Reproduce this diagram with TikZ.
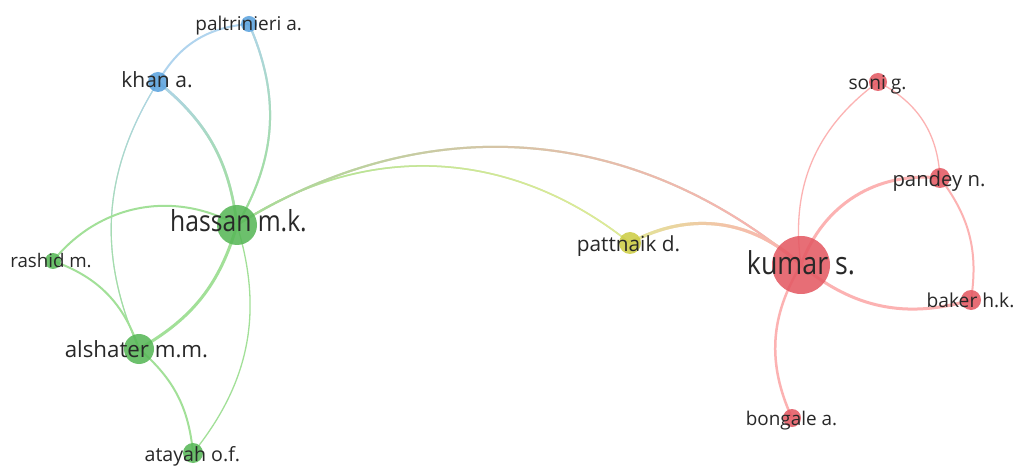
\documentclass[tikz,border=0pt]{standalone}
\usepackage{fontspec}
\usetikzlibrary{fadings}
\newfontfamily\vf{Open Sans}
\newfontfamily\vfn{Open Sans}[FakeStretch=0.85]
\definecolor{vgreen}{RGB}{88,184,88}
\definecolor{vblue}{RGB}{92,163,222}
\definecolor{vyellow}{RGB}{205,205,70}
\definecolor{vred}{RGB}{228,90,100}
\definecolor{egreen}{RGB}{162,224,152}
\definecolor{eblue}{RGB}{176,212,238}
\definecolor{eyellow}{RGB}{225,234,150}
\definecolor{ered}{RGB}{252,178,178}
\definecolor{labgray}{RGB}{40,40,40}
\tikzfading[name=fadeR, left color=transparent!0, right color=transparent!100]
\tikzfading[name=fadeL, left color=transparent!100, right color=transparent!0]
\tikzfading[name=fadeD, top color=transparent!0, bottom color=transparent!100]
\tikzfading[name=fadeU, top color=transparent!100, bottom color=transparent!0]
\pgfdeclarelayer{back}
\pgfdeclarelayer{edges}
\pgfsetlayers{back,edges,main}
\newcommand\gradedge[7]{%
  \draw[#1, draw=#4!50!#5] (#2.center) to (#3.center);
  \draw[#1, draw=#4, path fading=#6] (#2.center) to (#3.center);
  \draw[#1, draw=#5, path fading=#7] (#2.center) to (#3.center);}
\tikzset{
  vnode/.style={circle, inner sep=0pt, draw=none, fill opacity=0.88},
  lab/.style={anchor=base, inner sep=0pt, text=labgray},
  lsz/.style={font=\vf\fontsize{#1}{#1}\selectfont},
  lszn/.style={font=\vfn\fontsize{#1}{#1}\selectfont},
  thin edge/.style={line width=1.3pt},
  mid edge/.style={line width=2pt},
  thick edge/.style={line width=3pt},
}
\begin{document}
\begin{tikzpicture}[x=1pt,y=1pt]
\begin{pgfonlayer}{back}
\fill[white] (0,0) rectangle (1016,466);
\end{pgfonlayer}
\useasboundingbox (0,0) rectangle (1016,466);
% nodes
\node[vnode, fill=vblue, minimum size=16pt] (paltrinieri) at (249,442) {};
\node[vnode, fill=vblue, minimum size=20pt] (khan) at (158,384) {};
\node[vnode, fill=vgreen, minimum size=40pt] (hassan) at (237,241) {};
\node[vnode, fill=vgreen, minimum size=16pt] (rashid) at (53,205) {};
\node[vnode, fill=vgreen, minimum size=30pt] (alshater) at (139,117) {};
\node[vnode, fill=vgreen, minimum size=20pt] (atayah) at (193,13) {};
\node[vnode, fill=vyellow, minimum size=22pt] (pattnaik) at (630,223) {};
\node[vnode, fill=vred, minimum size=58pt] (kumar) at (801,201) {};
\node[vnode, fill=vred, minimum size=18pt] (soni) at (878,384) {};
\node[vnode, fill=vred, minimum size=20pt] (pandey) at (940,288) {};
\node[vnode, fill=vred, minimum size=20pt] (baker) at (971,166) {};
\node[vnode, fill=vred, minimum size=18pt] (bongale) at (792,48) {};
% labels
\node[lab, lsz=19] (lpaltrinieri) at (248.7,435) {paltrinieri a.};
\node[lab, lsz=21] (lkhan) at (157,378) {khan a.};
\node[lab, lszn=29] (lhassan) at (238.5,234) {hassan m.k.};
\node[lab, lsz=18.7] (lrashid) at (51,198) {rashid m.};
\node[lab, lsz=22.3] (lalshater) at (136.5,109) {alshater m.m.};
\node[lab, lsz=19.6] (latayah) at (192.4,5) {atayah o.f.};
\node[lab, lsz=20.8] (lpattnaik) at (628.5,214) {pattnaik d.};
\node[lab, lszn=31.5] (lkumar) at (801,191) {kumar s.};
\node[lab, lsz=19.2] (lsoni) at (877.5,376) {soni g.};
\node[lab, lsz=20.3] (lpandey) at (939,279) {pandey n.};
\node[lab, lsz=19.2] (lbaker) at (970.5,158) {baker h.k.};
\node[lab, lsz=18.9] (lbongale) at (791.5,41) {bongale a.};
% edges
\begin{pgfonlayer}{edges}
\draw[mid edge, eblue] (khan.center) to[bend left=28] (paltrinieri.center);
\gradedge{mid edge, bend left=27}{paltrinieri}{hassan}{eblue}{egreen}{fadeD}{fadeU}
\gradedge{line width=2.5pt, bend left=22}{khan}{hassan}{eblue}{egreen}{fadeD}{fadeU}
\gradedge{line width=1.1pt, bend right=28}{khan}{alshater}{eblue}{egreen}{fadeD}{fadeU}
\draw[mid edge, egreen] (hassan.center) to[bend right=40] (rashid.center);
\draw[thick edge, egreen] (hassan.center) to[bend left=22] (alshater.center);
\draw[thin edge, egreen] (hassan.center) to[bend left=28] (atayah.center);
\draw[mid edge, egreen] (rashid.center) to[bend left=26] (alshater.center);
\draw[mid edge, egreen] (alshater.center) to[bend left=22] (atayah.center);
\gradedge{line width=1.5pt, bend left=36}{hassan}{pattnaik}{egreen}{eyellow}{fadeR}{fadeL}
\gradedge{mid edge, bend left=36}{hassan}{kumar}{egreen}{ered}{fadeR}{fadeL}
\gradedge{thick edge, bend left=36}{pattnaik}{kumar}{eyellow}{ered}{fadeR}{fadeL}
\draw[thin edge, ered] (kumar.center) to[bend left=31] (soni.center);
\draw[thick edge, ered] (kumar.center) to[bend left=38] (pandey.center);
\draw[thick edge, ered] (kumar.center) to[bend right=28] (baker.center);
\draw[line width=2.5pt, ered] (kumar.center) to[bend right=28] (bongale.center);
\draw[thin edge, ered] (soni.center) to[bend left=30] (pandey.center);
\draw[mid edge, ered] (pandey.center) to[bend left=23] (baker.center);
\end{pgfonlayer}
\end{tikzpicture}
\end{document}
